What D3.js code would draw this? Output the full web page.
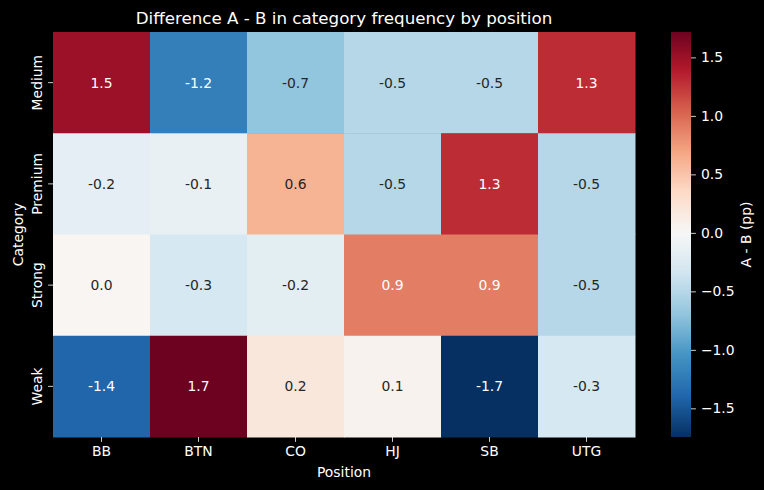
<!DOCTYPE html>
<html>
<head>
<meta charset="utf-8">
<script src="https://cdn.jsdelivr.net/npm/d3@7"></script>
<style>
  html, body { margin: 0; padding: 0; background: #000; }
  svg { display: block; font-family: "DejaVu Sans", sans-serif; }
</style>
</head>
<body>
<div id="chart"></div>
<script>
// positions and categories
const positions = ['BB', 'BTN', 'CO', 'HJ', 'SB', 'UTG'];
const categories = ['Medium', 'Premium', 'Strong', 'Weak'];

// A - B difference (pp), one row per category, columns follow positions
const medium = [1.5, -1.2, -0.7, -0.5, -0.5, 1.3];
const premium = [-0.17, -0.14, 0.6, -0.5, 1.3, -0.5];
const strong = [0.03, -0.3, -0.18, 0.9, 0.9, -0.5];
const weak = [-1.4, 1.717, 0.2, 0.06, -1.745, -0.3];

const cbarTicks = [-1.5, -1.0, -0.5, 0.0, 0.5, 1.0, 1.5];

const W = 764, H = 490;
const margin = { left: 53, right: 129, top: 32, bottom: 53 };

const rows = [medium, premium, strong, weak];
const cells = [];
rows.forEach((r, i) => {
  r.forEach((v, j) => {
    cells.push({ cat: categories[i], pos: positions[j], value: v });
  });
});

const allVals = cells.map((d) => d.value);
const vmin = d3.min(allVals),
  vmax = d3.max(allVals);
const vrange = Math.max(Math.abs(vmin), Math.abs(vmax));

// matplotlib RdBu_r control colours (linear segments)
const rdbu = ['#053061', '#2166ac', '#4393c3', '#92c5de', '#d1e5f0', '#f7f7f7',
  '#fddbc7', '#f4a582', '#d6604d', '#b2182b', '#67001f'];
const cmap = d3
  .scaleLinear()
  .domain(d3.range(rdbu.length).map((i) => -vrange + (2 * vrange * i) / (rdbu.length - 1)))
  .range(rdbu)
  .interpolate(d3.interpolateRgb)
  .clamp(true);

const svg = d3
  .select('#chart')
  .append('svg')
  .attr('width', W)
  .attr('height', H);

svg.append('rect').attr('width', W).attr('height', H).attr('fill', '#000');

const x = d3
  .scaleBand()
  .domain(positions)
  .range([margin.left, W - margin.right]);

const y = d3
  .scaleBand()
  .domain(categories)
  .range([margin.top, H - margin.bottom]);

const g = svg.append('g');

g.selectAll('rect.cell')
  .data(cells)
  .enter()
  .append('rect')
  .attr('class', 'cell')
  .attr('x', (d) => x(d.pos))
  .attr('y', (d) => y(d.cat))
  .attr('width', x.bandwidth() + 0.5)
  .attr('height', y.bandwidth() + 0.5)
  .attr('fill', (d) => cmap(d.value));

// text colour by luminance like seaborn
const lum = (c) => {
  const rgb = d3.rgb(c);
  const f = (u) => {
    u = u / 255;
    return u <= 0.03928 ? u / 12.92 : Math.pow((u + 0.055) / 1.055, 2.4);
  };
  return 0.2126 * f(rgb.r) + 0.7152 * f(rgb.g) + 0.0722 * f(rgb.b);
};

g.selectAll('text.annot')
  .data(cells)
  .enter()
  .append('text')
  .attr('class', 'annot')
  .attr('x', (d) => x(d.pos) + x.bandwidth() / 2)
  .attr('y', (d) => y(d.cat) + y.bandwidth() / 2)
  .attr('dy', '0.36em')
  .attr('text-anchor', 'middle')
  .attr('font-size', '13.9px')
  .attr('fill', (d) => (lum(cmap(d.value)) > 0.408 ? '#262626' : '#ffffff'))
  .text((d) => d3.format('.1f')(d.value).replace('−', '-'));

// x axis
const xAxis = svg
  .append('g')
  .attr('transform', `translate(0,${H - margin.bottom})`)
  .call(d3.axisBottom(x).tickSize(4.9).tickPadding(4));
xAxis.select('.domain').remove();
xAxis.selectAll('line').attr('stroke', '#fff').attr('stroke-width', 0.8);
xAxis
  .selectAll('text')
  .attr('fill', '#fff')
  .attr('font-size', '13.9px')
  .attr('font-family', '"DejaVu Sans", sans-serif');

// y axis
const yAxis = svg
  .append('g')
  .attr('transform', `translate(${margin.left},0)`)
  .call(d3.axisLeft(y).tickSize(4.9));
yAxis.select('.domain').remove();
yAxis.selectAll('line').attr('stroke', '#fff').attr('stroke-width', 0.8);
yAxis
  .selectAll('text')
  .attr('fill', '#fff')
  .attr('font-size', '13.9px')
  .attr('font-family', '"DejaVu Sans", sans-serif')
  .attr('text-anchor', 'middle')
  .attr('dy', null)
  .attr('x', null)
  .attr('transform', 'translate(-11.5,0) rotate(-90)');

// title and axis labels
svg
  .append('text')
  .attr('x', (margin.left + W - margin.right) / 2)
  .attr('y', 24)
  .attr('text-anchor', 'middle')
  .attr('fill', '#fff')
  .attr('font-size', '16.7px')
  .text('Difference A - B in category frequency by position');

svg
  .append('text')
  .attr('x', (margin.left + W - margin.right) / 2)
  .attr('y', 477)
  .attr('text-anchor', 'middle')
  .attr('fill', '#fff')
  .attr('font-size', '13.9px')
  .text('Position');

svg
  .append('text')
  .attr('transform', `translate(23,${(margin.top + H - margin.bottom) / 2}) rotate(-90)`)
  .attr('text-anchor', 'middle')
  .attr('fill', '#fff')
  .attr('font-size', '13.9px')
  .text('Category');

// colorbar
const cbX = 671,
  cbW = 20;
const cbScale = d3
  .scaleLinear()
  .domain([vmin, vmax])
  .range([H - margin.bottom, margin.top]);

const defs = svg.append('defs');
const grad = defs
  .append('linearGradient')
  .attr('id', 'cbgrad')
  .attr('x1', 0)
  .attr('y1', 1)
  .attr('x2', 0)
  .attr('y2', 0);
d3.range(0, 65).forEach((i) => {
  const t = i / 64;
  grad
    .append('stop')
    .attr('offset', t)
    .attr('stop-color', cmap(vmin + t * (vmax - vmin)));
});

svg
  .append('rect')
  .attr('x', cbX)
  .attr('y', margin.top)
  .attr('width', cbW)
  .attr('height', H - margin.bottom - margin.top)
  .attr('fill', 'url(#cbgrad)');

const cAxis = svg
  .append('g')
  .attr('transform', `translate(${cbX + cbW},0)`)
  .call(
    d3
      .axisRight(cbScale)
      .tickValues(cbarTicks)
      .tickSize(4.9)
      .tickPadding(5)
      .tickFormat((d) => d3.format('.1f')(d))
  );
cAxis.select('.domain').remove();
cAxis.selectAll('line').attr('stroke', '#fff').attr('stroke-width', 0.8);
cAxis
  .selectAll('text')
  .attr('fill', '#fff')
  .attr('font-size', '13.9px')
  .attr('font-family', '"DejaVu Sans", sans-serif');

svg
  .append('text')
  .attr('transform', `translate(750.5,${(margin.top + H - margin.bottom) / 2}) rotate(-90)`)
  .attr('text-anchor', 'middle')
  .attr('fill', '#fff')
  .attr('font-size', '13.9px')
  .text('A - B (pp)');
</script>
</body>
</html>
